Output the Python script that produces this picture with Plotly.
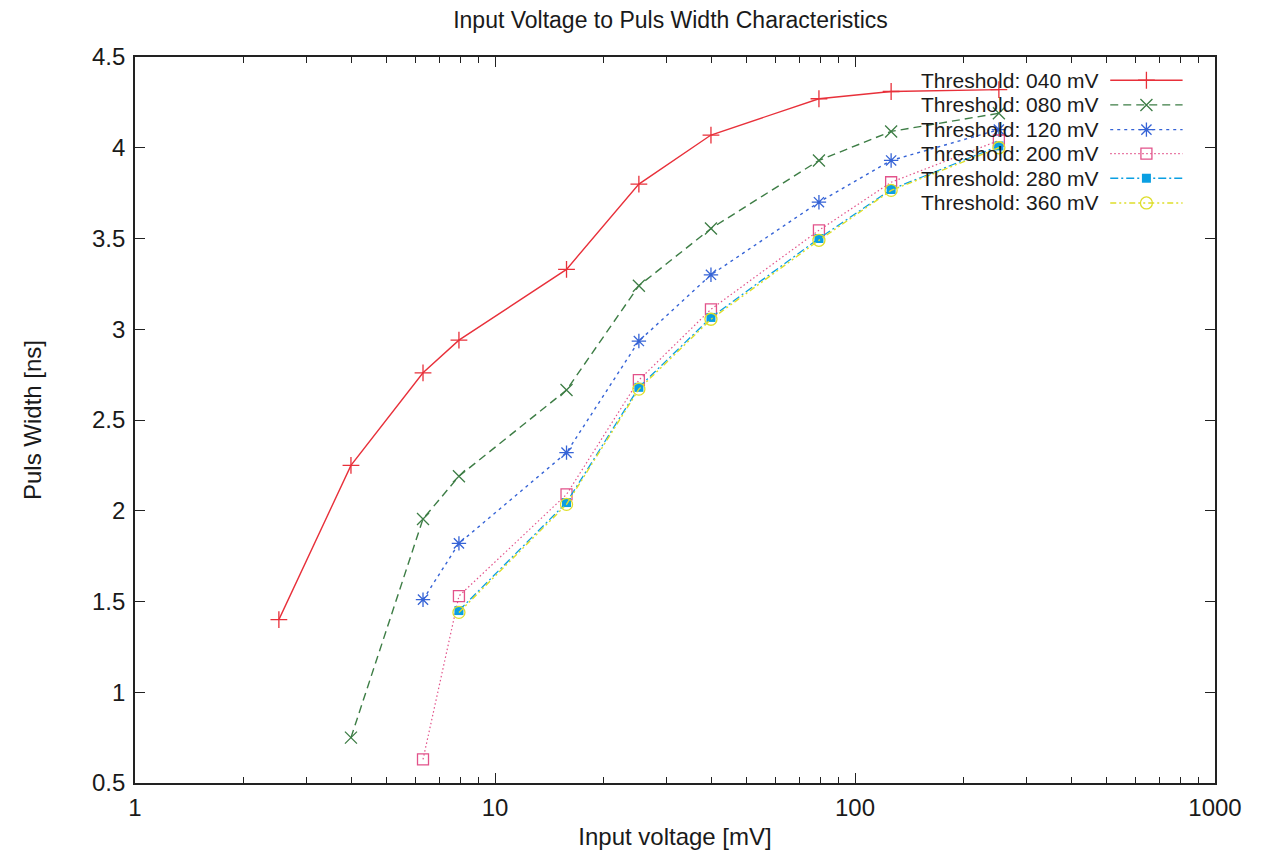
import plotly.graph_objects as go

# ---- data ----
input_voltage_mV = [2.51, 3.98, 6.31, 7.94, 15.8, 25.1, 39.8, 79.4, 126, 251]

width_040 = [1.40, 2.25, 2.76, 2.94, 3.33, 3.80, 4.07, 4.27, 4.31, 4.32]
width_080 = [None, 0.75, 1.955, 2.19, 2.665, 3.24, 3.555, 3.93, 4.09, 4.19]
width_120 = [None, None, 1.51, 1.82, 2.32, 2.935, 3.30, 3.70, 3.93, 4.10]
width_200 = [None, None, 0.63, 1.53, 2.09, 2.72, 3.11, 3.545, 3.81, 4.04]
width_280 = [None, None, None, 1.45, 2.045, 2.68, 3.065, 3.50, 3.77, 4.01]
width_360 = [None, None, None, 1.44, 2.035, 2.67, 3.055, 3.49, 3.765, 4.00]

series_names = ["Threshold: 040 mV", "Threshold: 080 mV", "Threshold: 120 mV",
                "Threshold: 200 mV", "Threshold: 280 mV", "Threshold: 360 mV"]
series_values = [width_040, width_080, width_120, width_200, width_280, width_360]

x_tick_vals = [1, 10, 100, 1000]
x_tick_text = ["1", "10", "100", "1000"]
y_tick_vals = [0.5, 1, 1.5, 2, 2.5, 3, 3.5, 4, 4.5]
y_tick_text = ["0.5", "1", "1.5", "2", "2.5", "3", "3.5", "4", "4.5"]

# ---- styles ----
styles = [
    dict(color="#e8303a", dash="solid", symbol="cross-thin", size=12, lw=1.4),
    dict(color="#3d7d45", dash="8px,5px", symbol="x-thin", size=12, lw=1.4),
    dict(color="#3563d6", dash="3px,4px", symbol="asterisk", size=12, lw=1.4),
    dict(color="#e2528a", dash="1.5px,2.5px", symbol="square-open", size=11, lw=1.2),
    dict(color="#0a9fe2", dash="8px,3px,2px,3px", symbol="square", size=9, lw=1.3),
    dict(color="#dede2a", dash="6px,3px,2px,3px,2px,3px", symbol="circle-open", size=12, lw=1.4),
]

FONT = "Liberation Sans, Arial, Helvetica, sans-serif"
TXT = "#1a1a1a"
FS = 24
KEY_FS = 21

fig = go.Figure()

for name, vals, st in zip(series_names, series_values, styles):
    mk = dict(symbol=st["symbol"], size=st["size"], color=st["color"],
              line=dict(color=st["color"], width=1.3 if st["symbol"] != "square" else 0))
    fig.add_trace(go.Scatter(
        x=input_voltage_mV, y=vals, name=name, mode="lines+markers",
        line=dict(color=st["color"], width=st["lw"], dash=st["dash"]),
        marker=mk, showlegend=False, xaxis="x", yaxis="y"))

# ---- gnuplot-style key (text, then sample line) on an overlay axis ----
key_rows_y = [0.968, 0.934, 0.900, 0.867, 0.833, 0.799]
key_x0, key_x1, key_text_x = 0.903, 0.970, 0.893
for name, st, ky in zip(series_names, styles, key_rows_y):
    fig.add_trace(go.Scatter(
        x=[key_x0, key_x1], y=[ky, ky], mode="lines",
        line=dict(color=st["color"], width=st["lw"], dash=st["dash"]),
        showlegend=False, hoverinfo="skip", xaxis="x2", yaxis="y2"))
    fig.add_trace(go.Scatter(
        x=[(key_x0 + key_x1) / 2], y=[ky], mode="markers",
        marker=dict(symbol=st["symbol"], size=st["size"], color=st["color"],
                    line=dict(color=st["color"], width=1.3 if st["symbol"] != "square" else 0)),
        showlegend=False, hoverinfo="skip", xaxis="x2", yaxis="y2"))
    fig.add_annotation(x=key_text_x, y=ky, xref="x2", yref="y2", text=name,
                       showarrow=False, xanchor="right", yanchor="middle",
                       borderpad=0,
                       font=dict(family=FONT, size=KEY_FS, color=TXT))

fig.update_layout(
    width=1250, height=842,
    paper_bgcolor="white", plot_bgcolor="white",
    margin=dict(l=127, r=43, t=49, b=67),
    showlegend=False,
    font=dict(family=FONT, size=FS, color=TXT),
    title=dict(text="Input Voltage to Puls Width Characteristics",
               x=0.530, xanchor="center", y=0.986, yanchor="middle",
               font=dict(family=FONT, size=FS - 1, color=TXT)),
    xaxis=dict(
        type="log", range=[0, 3], tickvals=x_tick_vals, ticktext=x_tick_text,
        ticks="inside", ticklen=10, tickwidth=1.2, tickcolor="#222",
        showline=True, linecolor="#222", linewidth=1.6, mirror="ticks",
        showgrid=False, zeroline=False, ticklabelstandoff=2, automargin=False,
        tickfont=dict(family=FONT, size=FS, color=TXT),
        minor=dict(ticks="inside", ticklen=6, tickwidth=1.1, tickcolor="#222",
                   tickvals=[2, 3, 4, 5, 6, 7, 8, 9, 20, 30, 40, 50, 60, 70, 80, 90,
                             200, 300, 400, 500, 600, 700, 800, 900], showgrid=False),
        title=dict(text="Input voltage [mV]",
                   font=dict(family=FONT, size=FS, color=TXT)),
    ),
    yaxis=dict(
        range=[0.5, 4.5], tickvals=y_tick_vals, ticktext=y_tick_text,
        ticks="inside", ticklen=10, tickwidth=1.2, tickcolor="#222",
        showline=True, linecolor="#222", linewidth=1.6, mirror="ticks",
        showgrid=False, zeroline=False, ticklabelstandoff=3, automargin=False,
        tickfont=dict(family=FONT, size=FS, color=TXT),
        title=dict(text="Puls Width [ns]", standoff=44,
                   font=dict(family=FONT, size=FS, color=TXT)),
    ),
    xaxis2=dict(range=[0, 1], overlaying="x", visible=False, fixedrange=True),
    yaxis2=dict(range=[0, 1], overlaying="y", visible=False, fixedrange=True),
)

fig.write_html("out.html")
